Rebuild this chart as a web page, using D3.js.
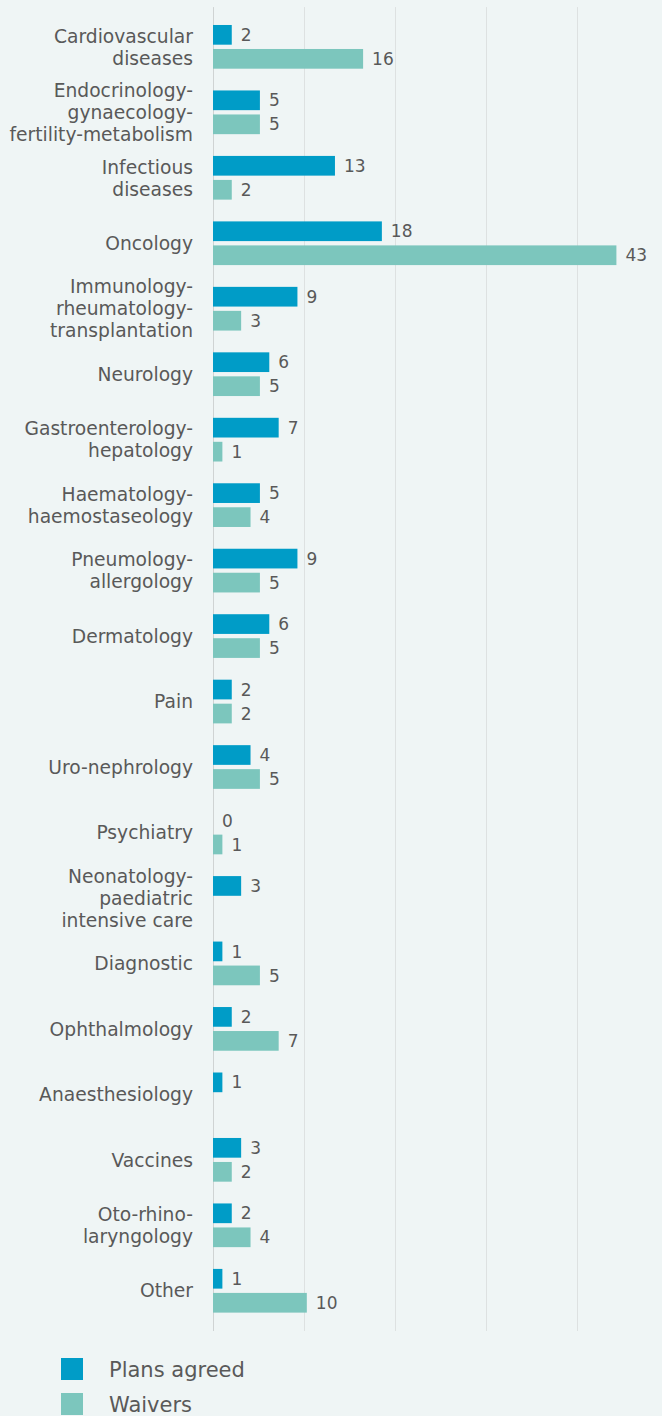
<!DOCTYPE html>
<html>
<head>
<meta charset="utf-8">
<script src="https://cdn.jsdelivr.net/npm/d3@7"></script>
<style>
  html, body { margin: 0; padding: 0; background: #eff5f5; }
  text { font-family: "DejaVu Sans", Verdana, sans-serif; fill: #595959; }
</style>
</head>
<body>
<div id="chart"></div>
<script>
// categories (line breaks as in the original labels)
const categories = [
  "Cardiovascular\ndiseases",
  "Endocrinology-\ngynaecology-\nfertility-metabolism",
  "Infectious\ndiseases",
  "Oncology",
  "Immunology-\nrheumatology-\ntransplantation",
  "Neurology",
  "Gastroenterology-\nhepatology",
  "Haematology-\nhaemostaseology",
  "Pneumology-\nallergology",
  "Dermatology",
  "Pain",
  "Uro-nephrology",
  "Psychiatry",
  "Neonatology-\npaediatric\nintensive care",
  "Diagnostic",
  "Ophthalmology",
  "Anaesthesiology",
  "Vaccines",
  "Oto-rhino-\nlaryngology",
  "Other"
];
const plansAgreed = [2, 5, 13, 18, 9, 6, 7, 5, 9, 6, 2, 4, 0, 3, 1, 2, 1, 3, 2, 1];
const waivers = [16, 5, 2, 43, 3, 5, 1, 4, 5, 5, 2, 5, 1, null, 5, 7, null, 2, 4, 10];
const seriesNames = ["Plans agreed", "Waivers"];
const seriesColors = ["#009cc7", "#7cc6bd"];

const width = 662;
const height = 1416;
const plotLeft = 213;
const plotTop = 14.1;
const plotWidth = 455;
const plotHeight = 1309.4;

const svg = d3
  .select("#chart")
  .append("svg")
  .attr("width", width)
  .attr("height", height);

const x = d3.scaleLinear().domain([0, 48.5]).range([0, plotWidth]);

const y0 = d3
  .scaleBand()
  .domain(d3.range(categories.length))
  .range([plotTop, plotTop + plotHeight])
  .paddingInner(0.3325)
  .paddingOuter(0.16625);

const y1 = d3
  .scaleBand()
  .domain([0, 1])
  .range([0, y0.bandwidth()])
  .paddingInner(0.179);

const g = svg.append("g").attr("transform", "translate(" + plotLeft + ",0)");

// grid: plot split into five equal columns
const gridValues = d3.range(5).map(function(i) { return x.domain()[1] * i / 5; });
g.selectAll(".grid")
  .data(gridValues)
  .enter()
  .append("line")
  .attr("class", "grid")
  .attr("x1", function(d) { return Math.round(x(d)) + 0.5; })
  .attr("x2", function(d) { return Math.round(x(d)) + 0.5; })
  .attr("y1", plotTop - 7)
  .attr("y2", plotTop + plotHeight + 7.5)
  .attr("stroke", function(d, i) { return i === 0 ? "#cfd3d3" : "#dde1e1"; })
  .attr("stroke-width", 1);

const rows = categories.map(function(c, i) {
  return { i: i, values: [plansAgreed[i], waivers[i]] };
});

const groups = g.selectAll(".group")
  .data(rows)
  .enter()
  .append("g")
  .attr("class", "group")
  .attr("transform", function(d) { return "translate(0," + y0(d.i) + ")"; });

const cells = groups.selectAll(".cell")
  .data(function(d) {
    return d.values.map(function(v, s) { return { s: s, v: v }; })
      .filter(function(e) { return e.v !== null; });
  })
  .enter();

cells.append("rect")
  .attr("x", 0)
  .attr("y", function(d) { return y1(d.s); })
  .attr("width", function(d) { return x(d.v); })
  .attr("height", y1.bandwidth())
  .attr("fill", function(d) { return seriesColors[d.s]; });

cells.append("text")
  .attr("x", function(d) { return x(d.v) + 9; })
  .attr("y", function(d) { return y1(d.s) + y1.bandwidth() / 2; })
  .attr("dy", "0.36em")
  .attr("font-size", 17)
  .text(function(d) { return d.v; });

// category labels
const lineHeight = 22;
svg.selectAll(".cat")
  .data(categories)
  .enter()
  .append("text")
  .attr("class", "cat")
  .attr("text-anchor", "end")
  .attr("font-size", 18.7)
  .each(function(d, i) {
    const lines = d.split("\n");
    const cy = y0(i) + y0.bandwidth() / 2;
    const startY = cy - (lines.length - 1) * lineHeight / 2;
    d3.select(this)
      .selectAll("tspan")
      .data(lines)
      .enter()
      .append("tspan")
      .attr("x", 193)
      .attr("y", function(l, k) { return startY + k * lineHeight; })
      .attr("dy", "0.36em")
      .text(function(l) { return l; });
  });

// legend
const legend = svg.selectAll(".legend")
  .data(seriesNames)
  .enter()
  .append("g")
  .attr("class", "legend")
  .attr("transform", function(d, i) { return "translate(61," + (1358 + i * 35) + ")"; });

legend.append("rect")
  .attr("width", 22)
  .attr("height", 22)
  .attr("fill", function(d, i) { return seriesColors[i]; });

legend.append("text")
  .attr("x", 48)
  .attr("y", 11)
  .attr("dy", "0.36em")
  .attr("font-size", 21)
  .text(function(d) { return d; });
</script>
</body>
</html>
